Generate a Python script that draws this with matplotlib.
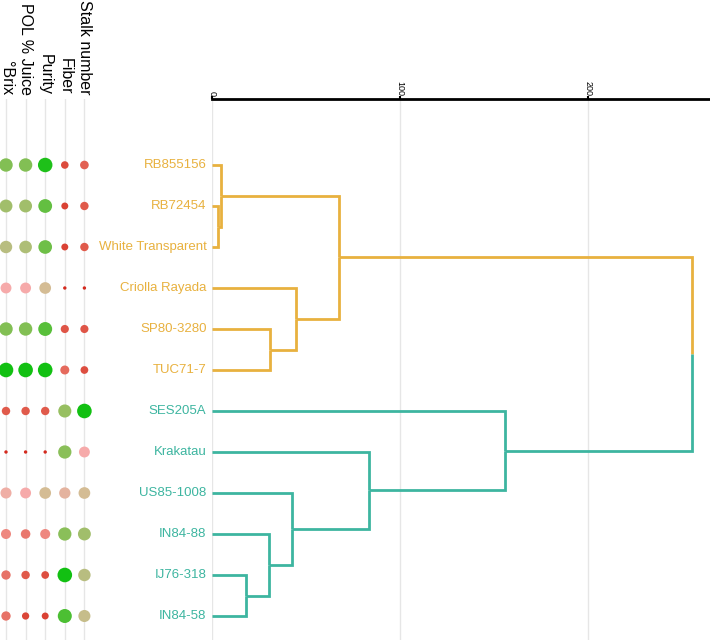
import numpy as np
import matplotlib
matplotlib.use("Agg")
import matplotlib.pyplot as plt
from matplotlib.colors import LinearSegmentedColormap
from matplotlib.transforms import blended_transform_factory

plt.rcParams['font.family'] = ['Liberation Sans', 'DejaVu Sans']

# --------------------------------------------------
# Data
# --------------------------------------------------
varieties = ["RB855156", "RB72454", "White Transparent", "Criolla Rayada",
             "SP80-3280", "TUC71-7", "SES205A", "Krakatau", "US85-1008",
             "IN84-88", "IJ76-318", "IN84-58"]
cluster = [0, 0, 0, 0, 0, 0, 1, 1, 1, 1, 1, 1]

# linkage: node 12.. built from (left, right, height)
link_left = [1, 0, 4, 3, 13, 10, 9, 8, 7, 6, 16]
link_right = [2, 12, 5, 14, 15, 11, 17, 18, 19, 20, 21]
link_height = [3.0, 4.7, 30.9, 44.5, 67.7, 18.1, 30.5, 42.7, 83.7, 155.9, 255.2]

traits = ["°Brix", "POL % Juice", "Purity", "Fiber", "Stalk number"]
# scaled scores (0 = lowest, 1 = highest) per trait, in variety order
brix = [0.80, 0.72, 0.65, 0.45, 0.80, 1.00, 0.20, 0.00, 0.47, 0.35, 0.28, 0.28]
pol_juice = [0.80, 0.72, 0.68, 0.45, 0.80, 1.00, 0.20, 0.00, 0.45, 0.30, 0.20, 0.12]
purity = [0.98, 0.86, 0.84, 0.55, 0.88, 1.00, 0.20, 0.00, 0.55, 0.35, 0.15, 0.10]
fiber = [0.14, 0.10, 0.10, 0.00, 0.18, 0.25, 0.75, 0.78, 0.50, 0.78, 1.00, 0.90]
stalk = [0.22, 0.20, 0.20, 0.00, 0.18, 0.15, 1.00, 0.45, 0.55, 0.72, 0.65, 0.60]
scores = [brix, pol_juice, purity, fiber, stalk]

cluster_colors = ["#E8B13F", "#3DB5A0"]

cmap = LinearSegmentedColormap.from_list("trait", [
    (0.00, "#D42A1E"), (0.20, "#E05A4B"), (0.35, "#EE8880"),
    (0.45, "#F6AAAA"), (0.55, "#D4BC94"), (0.65, "#B8BD80"),
    (0.75, "#98BF62"), (0.85, "#6BBF45"), (1.00, "#12C012")])

# --------------------------------------------------
# Layout
# --------------------------------------------------
W, H = 710, 640
fig = plt.figure(figsize=(W / 100, H / 100), dpi=100)
top = 1 - 99 / H
ylim = ((H - 165) / 41, (99 - 165) / 41)

# dendrogram
ax = fig.add_axes([212 / W, 0, (709 - 212) / W, top])
ax.set_xlim(0, 264.4)
ax.set_ylim(*ylim)

ypos = {i: float(i) for i in range(len(varieties))}
xpos = {i: 0.0 for i in range(len(varieties))}
col = {i: cluster_colors[c] for i, c in enumerate(cluster)}
for k, (a, b, h) in enumerate(zip(link_left, link_right, link_height)):
    node = len(varieties) + k
    ym = (ypos[a] + ypos[b]) / 2
    for child in (a, b):
        ax.plot([xpos[child], h, h], [ypos[child], ypos[child], ym],
                color=col[child], lw=2, solid_joinstyle="miter",
                solid_capstyle="butt", zorder=3)
    ypos[node] = ym
    xpos[node] = h
    col[node] = col[a] if col[a] == col[b] else None

for i, name in enumerate(varieties):
    ax.annotate(name, (0, i), xytext=(-4, 0), textcoords="offset points",
                ha="right", va="center", fontsize=9.5,
                color=cluster_colors[cluster[i]], annotation_clip=False)

ax.xaxis.tick_top()
ax.set_xticks([0, 100, 200])
ax.tick_params(axis="x", length=2, width=1.5, pad=0.5, labelsize=6.5,
               labelrotation=-90, color="black")
ax.set_yticks([])
for side in ["left", "right", "bottom"]:
    ax.spines[side].set_visible(False)
ax.spines["top"].set_linewidth(2)
ax.grid(axis="x", color="#E6E6E6", lw=1, zorder=0)
ax.set_axisbelow(True)

# trait dots
ax2 = fig.add_axes([0, 0, 100 / W, top])
ax2.set_xlim(-6 / 19.6, (100 - 6) / 19.6)
ax2.set_ylim(*ylim)
ax2.axis("off")
rows = np.arange(len(varieties))
for j, (trait, vals) in enumerate(zip(traits, scores)):
    vals = np.array(vals)
    ax2.axvline(j, color="#E6E6E6", lw=1, zorder=0)
    radius = 1.7 + 5.6 * np.sqrt(vals)
    ax2.scatter(np.full(len(vals), j), rows, s=(2 * radius * 0.72) ** 2,
                c=cmap(vals), linewidths=0, zorder=2)
    ax2.annotate(trait, (j, 1), xycoords=blended_transform_factory(ax2.transData, ax2.transAxes),
                 xytext=(0, 3), textcoords="offset points", rotation=-90,
                 ha="center", va="bottom", fontsize=11.5, annotation_clip=False)

fig.savefig("out.png", dpi=100)
